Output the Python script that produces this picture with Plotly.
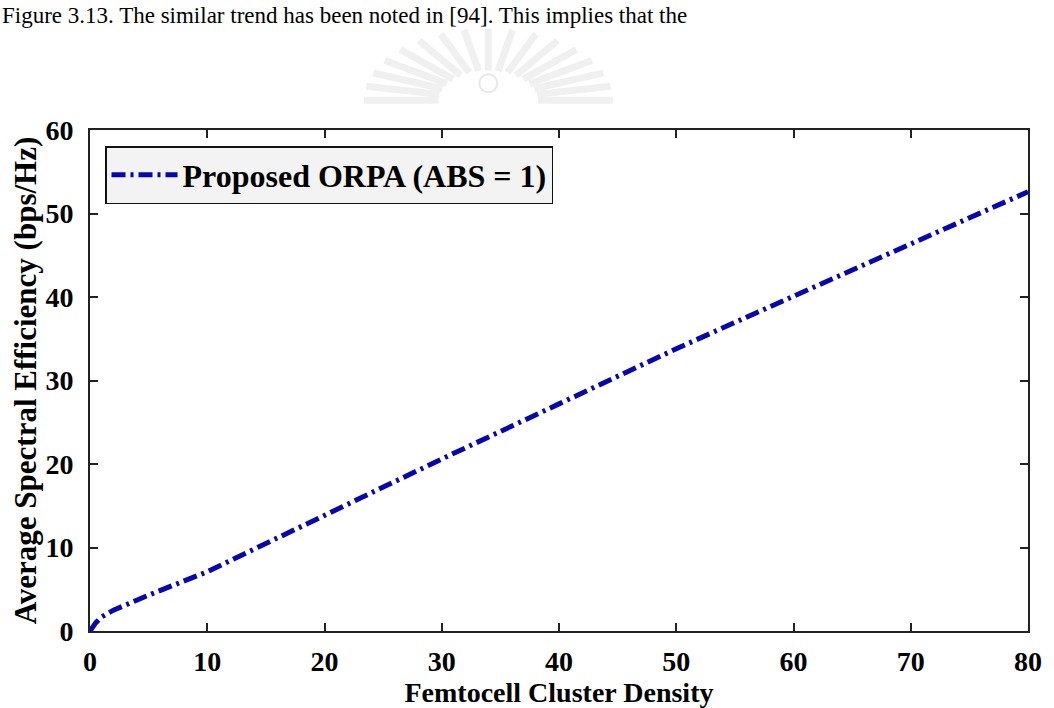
import numpy as np
import plotly.graph_objects as go

# Average spectral efficiency vs. femtocell cluster density
density = [0, 0.5, 1, 2, 3, 5, 10, 20, 30, 40, 50, 60, 70, 80]
spectral_eff = [0, 1.0, 1.7, 2.5, 3.1, 4.3, 7.1, 13.9, 20.6, 27.2, 33.8, 40.1, 46.4, 52.6]

x_ticks = [0, 10, 20, 30, 40, 50, 60, 70, 80]
y_ticks = [0, 10, 20, 30, 40, 50, 60]

series_name = "Proposed ORPA (ABS = 1)"
caption = "Figure 3.13. The similar trend has been noted in [94]. This implies that the"

W, H = 1054, 708
L, R, T, B = 90, 22, 130, 74
serif = "Liberation Serif"

fig = go.Figure()
fig.add_trace(go.Scatter(
    x=density, y=spectral_eff, mode="lines", name=series_name,
    line=dict(color="#0606b0", width=5, dash="14px,5px,3px,5px"),
))

axis_common = dict(
    showgrid=False, zeroline=False, showline=True, linecolor="#222222", linewidth=2,
    mirror="ticks", ticks="inside", ticklen=8, tickwidth=2, tickcolor="#222222",
    tickfont=dict(family=serif, size=28, color="black", weight="bold"),
)

fig.update_layout(
    width=W, height=H,
    margin=dict(l=L, r=R, t=T, b=B, pad=0),
    paper_bgcolor="white", plot_bgcolor="white",
    xaxis=dict(range=[0, 80], tickvals=x_ticks, ticklabelstandoff=4,
               title=dict(text="Femtocell Cluster Density", standoff=0,
                          font=dict(family=serif, size=28, color="black", weight="bold")),
               **axis_common),
    yaxis=dict(range=[0, 60], tickvals=y_ticks, ticklabelstandoff=9,
               title=dict(text="Average Spectral Efficiency (bps/Hz)", standoff=0,
                          font=dict(family=serif, size=31, color="black", weight="bold")),
               **axis_common),
    legend=dict(x=0.016, y=0.968, xanchor="left", yanchor="top",
                bgcolor="#f3f3f3", bordercolor="#111111", borderwidth=1.5,
                font=dict(family=serif, size=32, color="black", weight="bold"),
                itemwidth=66),
    showlegend=True,
)

# Caption line of body text at the top of the page
fig.add_annotation(
    text=caption, xref="paper", yref="paper",
    x=-L / (W - L - R), y=1 + T / (H - T - B),
    xanchor="left", yanchor="top", showarrow=False,
    font=dict(family=serif, size=23, color="black"),
)

# Faint emblem above the plot: radiating rays and a small orb
cx, cy = 490, 100
shapes = []
for ang in np.linspace(0, np.pi, 17):
    ca, sa = np.cos(ang), np.sin(ang)
    x0, y0 = cx + 50 * ca, cy - 30 * sa
    x1, y1 = cx + 125 * ca, cy - 72 * sa
    shapes.append(dict(type="line", xref="paper", yref="paper",
                       x0=(x0 - L) / (W - L - R), x1=(x1 - L) / (W - L - R),
                       y0=(H - B - y0) / (H - T - B), y1=(H - B - y1) / (H - T - B),
                       line=dict(color="#f0f0f0", width=7), layer="below"))
shapes.append(dict(type="circle", xref="paper", yref="paper",
                   x0=(cx - 9 - L) / (W - L - R), x1=(cx + 9 - L) / (W - L - R),
                   y0=(H - B - 92) / (H - T - B), y1=(H - B - 74) / (H - T - B),
                   line=dict(color="#e8e8e8", width=2), fillcolor="white"))
fig.update_layout(shapes=shapes)

fig.write_html("out.html")
